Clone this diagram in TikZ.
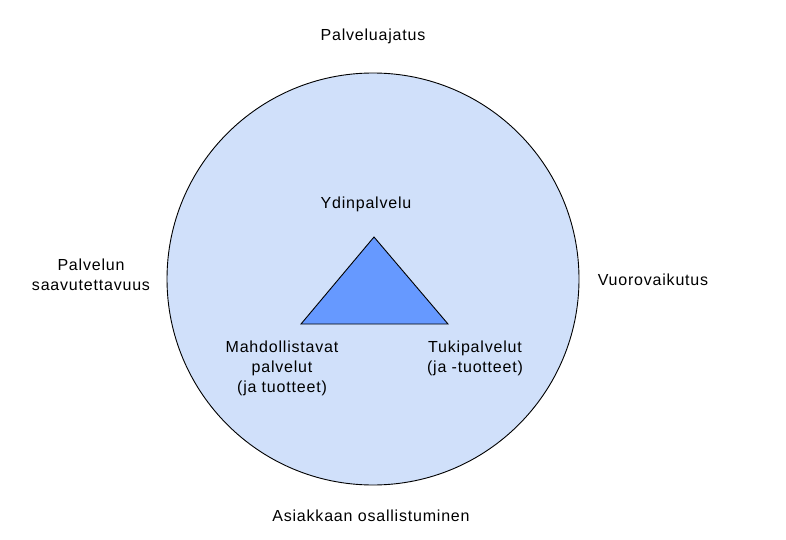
\documentclass[tikz,border=0pt]{standalone}
\usepackage{fontspec}
\setmainfont[LetterSpace=5.0]{Liberation Sans}
\usepackage{tikz}
\definecolor{ringfill}{HTML}{D0E0FA}
\definecolor{trifill}{HTML}{6699FF}

\begin{document}
\begin{tikzpicture}[x=1pt,y=-1pt]
\tikzstyle{every node}+=[inner sep=0pt]
\tikzstyle{lbl}=[font=\fontsize{16}{20}\selectfont,align=center,anchor=base]
\useasboundingbox (0,0) rectangle (786,540);
% outer circle
\draw [black,fill=ringfill,line width=0.9] (373,279) circle (206);
% triangle
\coordinate (apex) at (374,237);
\coordinate (left) at (301,324);
\coordinate (right) at (448,324);
\draw [black,fill=trifill,line width=0.9] (apex) -- (left) -- (right) -- cycle;
% labels round the circle (base = last line)
\node [lbl] (idea) at (373,41) {Palveluajatus};
\node [lbl] (access) at (91,290) {Palvelun\\saavutettavuus};
\node [lbl] (inter) at (653,285) {Vuorovaikutus};
\node [lbl] (part) at (371,521) {Asiakkaan osallistuminen};
% labels at the triangle
\node [lbl] (core) at (366,208) {Ydinpalvelu};
\node [lbl] (enable) at (282,392) {Mahdollistavat\\palvelut\\(ja tuotteet)};
\node [lbl] (support) at (475,372) {Tukipalvelut\\(ja -tuotteet)};
\end{tikzpicture}
\end{document}
